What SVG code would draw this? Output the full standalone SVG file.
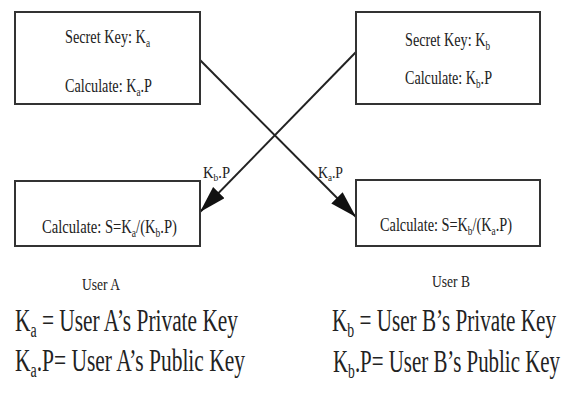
<svg xmlns="http://www.w3.org/2000/svg" width="565" height="394" viewBox="0 0 565 394">
<style>
.box{fill:#fff;stroke:#333;stroke-width:2}
text{font-family:"Liberation Serif",serif;fill:#222}
.s{font-size:19px}
.l{font-size:16px}
.b{font-size:32px}
.sub{font-size:65%}
.conn{stroke:#222;stroke-width:2;fill:none}
</style>
<defs>
<marker id="ah" markerUnits="userSpaceOnUse" markerWidth="30" markerHeight="18" refX="27" refY="8" orient="auto">
<path d="M0,0 L27,8 L0,16 z" fill="#111"/>
</marker>
</defs>
<rect width="565" height="394" fill="#fff"/>
<g id="connectors">
<line class="conn" x1="200" y1="60" x2="356" y2="217" marker-end="url(#ah)"/>
<line class="conn" x1="356" y1="52" x2="200" y2="212" marker-end="url(#ah)"/>
<text class="l" x="203" y="178" textLength="27" lengthAdjust="spacingAndGlyphs">K<tspan class="sub" dy="3">b</tspan><tspan dy="-3">.P</tspan></text>
<text class="l" x="318" y="178" textLength="25" lengthAdjust="spacingAndGlyphs">K<tspan class="sub" dy="3">a</tspan><tspan dy="-3">.P</tspan></text>
</g>
<g id="nodeA">
<rect class="box" x="15" y="12" width="185" height="92"/>
<text class="s" x="65" y="43" textLength="85" lengthAdjust="spacingAndGlyphs">Secret Key: K<tspan class="sub" dy="4">a</tspan></text>
<text class="s" x="65" y="92" textLength="87" lengthAdjust="spacingAndGlyphs">Calculate: K<tspan class="sub" dy="4">a</tspan><tspan dy="-4">.P</tspan></text>
</g>
<g id="nodeB">
<rect class="box" x="356" y="12" width="184" height="92"/>
<text class="s" x="405" y="46" textLength="85" lengthAdjust="spacingAndGlyphs">Secret Key: K<tspan class="sub" dy="4">b</tspan></text>
<text class="s" x="405" y="84" textLength="87" lengthAdjust="spacingAndGlyphs">Calculate: K<tspan class="sub" dy="4">b</tspan><tspan dy="-4">.P</tspan></text>
</g>
<g id="nodeA2">
<rect class="box" x="15" y="181" width="185" height="65"/>
<text class="s" x="42" y="233" textLength="135" lengthAdjust="spacingAndGlyphs">Calculate: S=K<tspan class="sub" dy="4">a</tspan><tspan dy="-4">/(K</tspan><tspan class="sub" dy="4">b</tspan><tspan dy="-4">.P)</tspan></text>
</g>
<g id="nodeB2">
<rect class="box" x="356" y="180" width="184" height="66"/>
<text class="s" x="380" y="231" textLength="132" lengthAdjust="spacingAndGlyphs">Calculate: S=K<tspan class="sub" dy="4">b</tspan><tspan dy="-4">/(K</tspan><tspan class="sub" dy="4">a</tspan><tspan dy="-4">.P)</tspan></text>
</g>
<g id="legend">
<text class="l" x="82" y="290" textLength="38" lengthAdjust="spacingAndGlyphs">User A</text>
<text class="l" x="432" y="287" textLength="38" lengthAdjust="spacingAndGlyphs">User B</text>
<text class="b" x="15" y="331" textLength="223" lengthAdjust="spacingAndGlyphs">K<tspan class="sub" dy="6">a</tspan><tspan dy="-6"> = User A’s Private Key</tspan></text>
<text class="b" x="15" y="371" textLength="230" lengthAdjust="spacingAndGlyphs">K<tspan class="sub" dy="6">a</tspan><tspan dy="-6">.P= User A’s Public Key</tspan></text>
<text class="b" x="332" y="331" textLength="224" lengthAdjust="spacingAndGlyphs">K<tspan class="sub" dy="6">b</tspan><tspan dy="-6"> = User B’s Private Key</tspan></text>
<text class="b" x="333" y="372" textLength="227" lengthAdjust="spacingAndGlyphs">K<tspan class="sub" dy="6">b</tspan><tspan dy="-6">.P= User B’s Public Key</tspan></text>
</g>
</svg>
